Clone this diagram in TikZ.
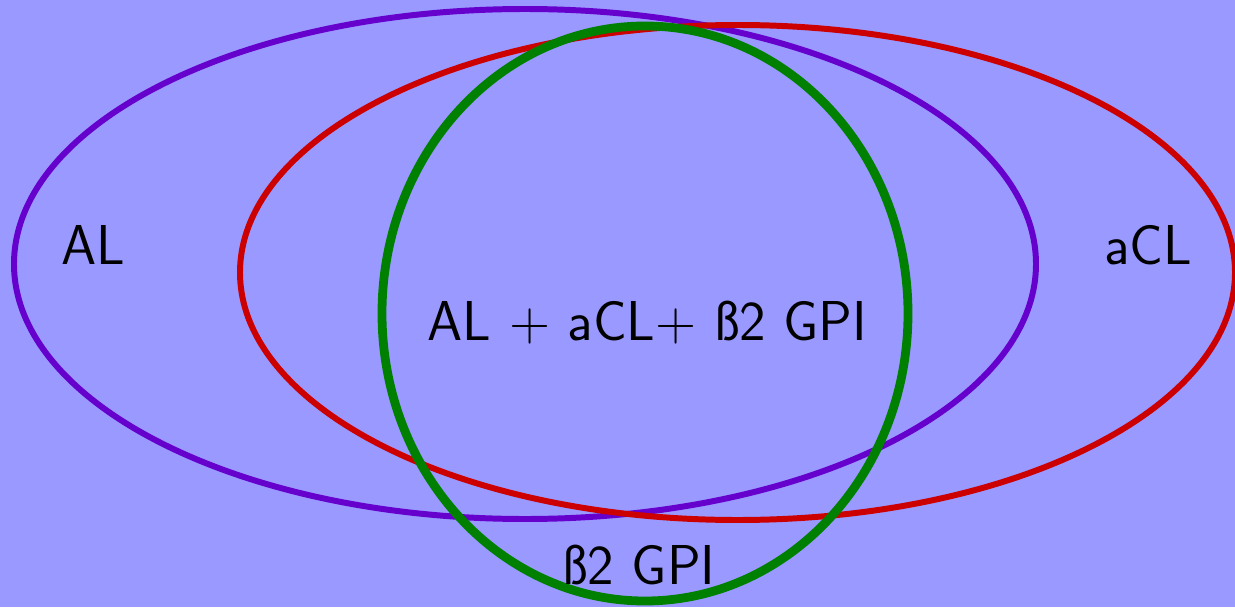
\documentclass[tikz,border=0pt]{standalone}
\usepackage{xcolor}
\usepackage{tikz}
\definecolor{VnBack}{HTML}{9999FF}
\definecolor{VnPurple}{HTML}{6600CC}
\definecolor{VnRed}{HTML}{CC0000}
\definecolor{VnGreen}{HTML}{008000}

\begin{document}
\begin{tikzpicture}[x=1cm,y=1cm,
  vnlabel/.style={font=\sffamily\fontsize{32}{38}\selectfont,text=black,inner sep=0pt}]
\fill[VnBack] (0,0) rectangle (24.70,12.14);
\path[use as bounding box] (0,0) rectangle (24.70,12.14);
\draw[VnPurple,line width=3.4pt] (10.50,6.86) ellipse [x radius=10.22,y radius=5.10];
\draw[VnRed,line width=3.4pt] (14.75,6.69) ellipse [x radius=9.95,y radius=4.95];
\draw[VnGreen,line width=5pt] (12.90,5.87) ellipse [x radius=5.26,y radius=5.75];
\node[vnlabel] (al) at (1.87,7.25) {AL};
\node[vnlabel] (acl) at (22.96,7.24) {aCL};
\node[vnlabel] (all) at (12.95,5.68) {AL + aCL+ ß2 GPI};
\node[vnlabel] (gpi) at (12.78,0.84) {ß2 GPI};
\end{tikzpicture}
\end{document}
